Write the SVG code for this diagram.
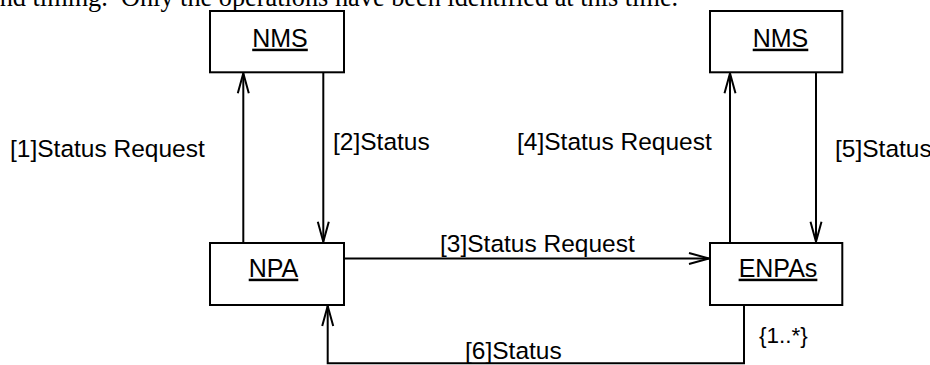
<svg xmlns="http://www.w3.org/2000/svg" width="930" height="365" viewBox="0 0 930 365">
<style>
.box{fill:#fff;stroke:#000;stroke-width:2}
.ln{fill:none;stroke:#000;stroke-width:2}
.lbl{font-family:"Liberation Sans",Arial,sans-serif;font-size:24.5px;fill:#000}
.nm{font-family:"Liberation Sans",Arial,sans-serif;font-size:25px;fill:#000;text-decoration:underline}
.doc{font-family:"Liberation Serif","Times New Roman",serif;font-size:26.3px;fill:#000}
</style>
<defs>
<marker id="open" viewBox="0 0 22 14" refX="21" refY="7" markerWidth="22" markerHeight="14" markerUnits="userSpaceOnUse" orient="auto">
<path d="M1,1.5 L21,7 L1,12.5" fill="none" stroke="#000" stroke-width="2"/>
</marker>
</defs>
<rect width="930" height="365" fill="#fff"/>
<text class="doc" x="-12" y="5.5">and timing. &#160;Only the operations have been identified at this time.</text>
<g id="connectors">
<line class="ln" x1="243.3" y1="242.7" x2="243.3" y2="73.3" marker-end="url(#open)"/>
<line class="ln" x1="323.3" y1="72.3" x2="323.3" y2="241.7" marker-end="url(#open)"/>
<line class="ln" x1="730" y1="242.7" x2="730" y2="73.3" marker-end="url(#open)"/>
<line class="ln" x1="816" y1="72.3" x2="816" y2="241.7" marker-end="url(#open)"/>
<line class="ln" x1="344" y1="258.5" x2="709" y2="258.5" marker-end="url(#open)"/>
<polyline class="ln" points="744,305 744,363.3 327.7,363.3 327.7,306" marker-end="url(#open)"/>
<text class="lbl" x="10" y="157">[1]Status Request</text>
<text class="lbl" x="333" y="150">[2]Status</text>
<text class="lbl" x="440" y="251.5">[3]Status Request</text>
<text class="lbl" x="517" y="149.5">[4]Status Request</text>
<text class="lbl" x="835" y="157">[5]Status</text>
<text class="lbl" x="465" y="359">[6]Status</text>
<text class="lbl" x="759" y="343" style="font-size:22.5px">{1..*}</text>
</g>
<g id="nms-left">
<rect class="box" x="210" y="11" width="134" height="61.3"/>
<text class="nm" x="280" y="46.7" text-anchor="middle">NMS</text>
</g>
<g id="nms-right">
<rect class="box" x="710" y="11" width="132.3" height="61.3"/>
<text class="nm" x="780.5" y="46.7" text-anchor="middle">NMS</text>
</g>
<g id="npa">
<rect class="box" x="210" y="243" width="134" height="62"/>
<text class="nm" x="273.5" y="276.7" text-anchor="middle">NPA</text>
</g>
<g id="enpas">
<rect class="box" x="710" y="243" width="132.3" height="62"/>
<text class="nm" x="778" y="276.7" text-anchor="middle">ENPAs</text>
</g>
</svg>
